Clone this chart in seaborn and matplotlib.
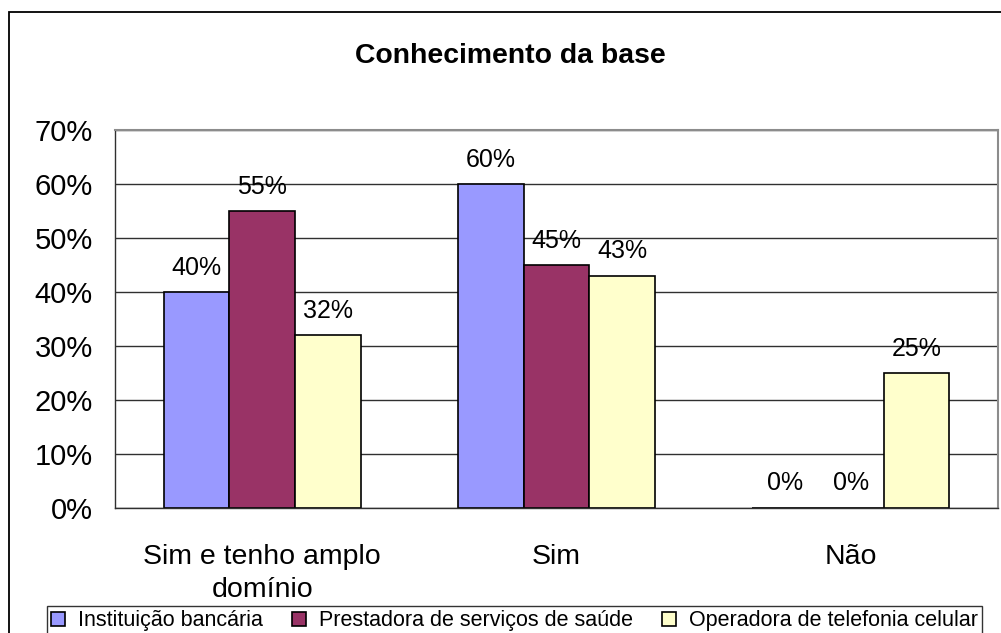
import matplotlib
matplotlib.use("Agg")
import matplotlib.pyplot as plt
import matplotlib.patches as mpatches
import pandas as pd
import seaborn as sns

categories = ["Sim e tenho amplo\ndomínio", "Sim", "Não"]
series = ["Instituição bancária", "Prestadora de serviços de saúde", "Operadora de telefonia celular"]
bancaria = [40, 60, 0]
saude = [55, 45, 0]
telefonia = [32, 43, 25]
colors = ["#9999FF", "#993366", "#FFFFCC"]

rows = []
for name, vals in zip(series, [bancaria, saude, telefonia]):
    for cat, v in zip(categories, vals):
        rows.append({"cat": cat, "serie": name, "val": v})
df = pd.DataFrame(rows)

sns.set_style("white")
plt.rcParams["font.family"] = ["Liberation Sans", "DejaVu Sans"]
plt.rcParams["text.color"] = "black"
plt.rcParams["xtick.labelcolor"] = "black"
plt.rcParams["ytick.labelcolor"] = "black"

fig = plt.figure(figsize=(10.01, 6.33), dpi=100)
ax = fig.add_axes([115 / 1001, 1 - 508 / 633, 883 / 1001, 378 / 633])

sns.barplot(data=df, x="cat", y="val", hue="serie", hue_order=series,
            palette=colors, width=0.67, edgecolor="black", linewidth=1.2,
            saturation=1, ax=ax, legend=True)

for cont in ax.containers:
    ax.bar_label(cont, labels=[f"{int(v)}%" for v in cont.datavalues],
                 padding=9, fontsize=18, color="black")

ax.set_xlim(-0.5, 2.5)
ax.set_ylim(0, 70)
ax.set_yticks(range(0, 71, 10))
ax.set_yticklabels([f"{v}%" for v in range(0, 71, 10)], fontsize=21)
ax.yaxis.grid(True, color="#303030", linewidth=1)
ax.set_axisbelow(True)
ax.set_xlabel("")
ax.set_ylabel("")

ax.set_xticks([-0.5, 0.5, 1.5, 2.5], minor=True)
ax.tick_params(axis="x", which="minor", length=7, width=1, color="#303030", direction="out")
ax.tick_params(axis="x", which="major", length=0, pad=26, labelsize=20.5)
ax.tick_params(axis="y", length=7, width=1, color="#303030", direction="out", pad=9)
ax.set_xticks(range(3))
ax.set_xticklabels(categories, fontsize=20.5, linespacing=1.35)

for side in ["top", "right"]:
    ax.spines[side].set_color("#8c8c8c")
    ax.spines[side].set_linewidth(1.5)
for side in ["left", "bottom"]:
    ax.spines[side].set_color("#303030")
    ax.spines[side].set_linewidth(1)

handles, labels = ax.get_legend_handles_labels()
ax.get_legend().remove()
leg = fig.legend(handles, labels, loc="upper left",
                 bbox_to_anchor=(47 / 1001, 1 - 606 / 633),
                 ncol=3, fontsize=15.5, frameon=True, fancybox=False,
                 handlelength=0.65, handleheight=0.65, handletextpad=0.6,
                 columnspacing=1.35, borderpad=0.2, borderaxespad=0)
leg.get_frame().set_edgecolor("black")
leg.get_frame().set_linewidth(1)

fig.text(510 / 1001, 1 - 56 / 633, "Conhecimento da base", ha="center",
         va="center", fontsize=20.4, fontweight="bold")

fig.patches.append(mpatches.Rectangle((9 / 1001, -0.1), 1.2, 0.981 + 0.1,
                                      transform=fig.transFigure, fill=False,
                                      edgecolor="black", linewidth=1.3))

fig.savefig("out.png", dpi=100)
